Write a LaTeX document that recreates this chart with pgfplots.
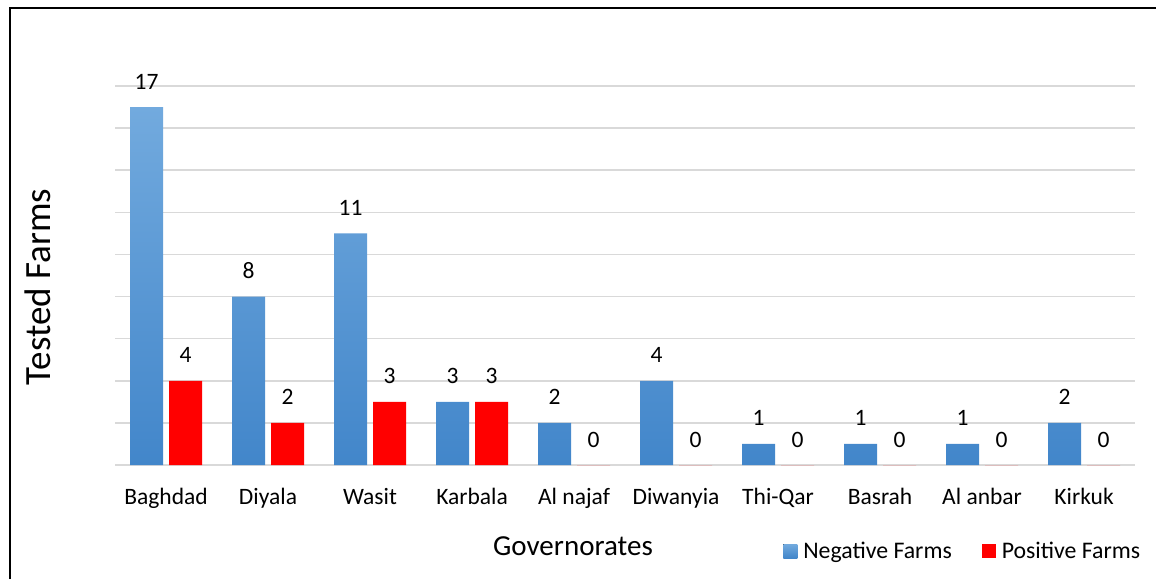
\documentclass[border=0pt]{standalone}
\usepackage{fontspec}
\setmainfont{Carlito}
\usepackage{pgfplots}
\pgfplotsset{compat=1.18}
\definecolor{gridgray}{RGB}{217,217,217}
\definecolor{bluetop}{RGB}{114,170,222}
\definecolor{bluebot}{RGB}{66,134,202}
\pgfplotsset{sqlegend/.style={legend image code/.code={\fill[##1] (0pt,-7pt) rectangle (14pt,7pt);}}}
\begin{document}
\begin{tikzpicture}[x=1pt,y=1pt]
\useasboundingbox (0,0) rectangle (1156,579);
\draw[line width=2pt] (10,0) -- (10,571) -- (1156,571);
\begin{axis}[
  at={(115pt,114pt)}, anchor=south west,
  scale only axis, width=1020pt, height=379pt,
  ymin=0, ymax=18, xmin=-0.5, xmax=9.5,
  ytick={0,2,...,18}, yticklabels={,,,,,,,,,},
  ymajorgrids, grid style={gridgray, line width=1.5pt},
  axis line style={draw=none}, major tick length=0pt,
  xtick={0,...,9},
  xticklabels={Baghdad,Diyala,Wasit,Karbala,Al najaf,Diwanyia,Thi-Qar,Basrah,Al anbar,Kirkuk},
  xticklabel style={font=\fontsize{23.5}{28}\selectfont, anchor=base, yshift=-39pt},
  ybar=6pt, bar width=33pt,
  /pgf/number format/assume math mode=true,
  nodes near coords,
  every node near coord/.append style={font=\fontsize{23.5}{28}\selectfont, anchor=base, yshift=18pt, inner sep=0pt},
  xlabel={Governorates},
  xlabel style={at={(axis description cs:0.449,-0.240)}, anchor=base, font=\fontsize{29}{34}\selectfont},
  ylabel={Tested Farms},
  ylabel style={at={(axis description cs:-0.076,0.4697)}, anchor=center, font=\fontsize{37}{44}\selectfont},
  legend columns=2,
  legend style={at={(axis description cs:0.655,-0.227)}, anchor=west, draw=none, fill=none,
    inner sep=0pt, nodes={inner sep=0pt}, font=\fontsize{23.8}{28}\selectfont,
    /tikz/every odd column/.append style={column sep=6pt},
    /tikz/every even column/.append style={column sep=30pt}},
]
\addplot[draw=none, top color=bluetop, bottom color=bluebot, sqlegend]
  coordinates {(0,17) (1,8) (2,11) (3,3) (4,2) (5,4) (6,1) (7,1) (8,1) (9,2)};
\addplot[draw=none, fill=red, sqlegend]
  coordinates {(0,4) (1,2) (2,3) (3,3) (4,0) (5,0) (6,0) (7,0) (8,0) (9,0)};
\legend{Negative Farms, Positive Farms}
\end{axis}
\end{tikzpicture}
\end{document}
